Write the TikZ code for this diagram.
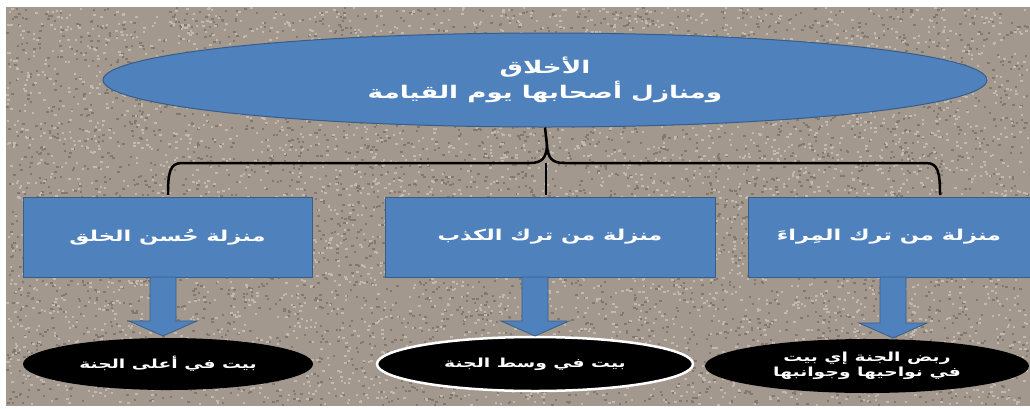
\documentclass[tikz,border=0pt]{standalone}
\usepackage{fontspec}
\usetikzlibrary{shapes.geometric,calc}
\newfontfamily\arabicfont[Script=Arabic,FakeStretch=1.5]{DejaVu Sans}
\TeXXeTstate=1
\definecolor{boxblue}{HTML}{4F81BD}
\definecolor{boxedge}{HTML}{385D8A}
\definecolor{bgtan}{HTML}{A3988D}
\definecolor{bgdark}{HTML}{83786E}
\definecolor{bglight}{HTML}{C3B9AE}
\tikzset{
  topell/.style={ellipse, fill=boxblue, draw=boxedge, line width=1pt, inner sep=0pt,
     text=white, align=center, font=\arabicfont\bfseries\fontsize{17.5}{25}\selectfont},
  levelbox/.style={rectangle, fill=boxblue, draw=boxedge, line width=1pt, inner sep=0pt,
     minimum height=80pt, text=white, font=\arabicfont\bfseries\fontsize{15}{18}\selectfont},
  leaf/.style={ellipse, fill=black, inner sep=0pt, text=white, align=center,
     font=\arabicfont\bfseries\fontsize{12.5}{15}\selectfont},
  brace/.style={draw=black, line width=2.5pt},
  blockarrow/.style={fill=boxblue, draw=boxedge, line width=0.8pt},
  speck/.style={fill=#1},
}
\newcommand\downarrowblock[3]{% x, ytop, ytip
  \draw[blockarrow] (#1-13,#2) -- (#1+13,#2) -- (#1+13,#3-15) -- (#1+34,#3-15)
     -- (#1,#3) -- (#1-34,#3-15) -- (#1-13,#3-15) -- cycle;}
\begin{document}
\begin{tikzpicture}[x=1pt,y=-1pt]
\useasboundingbox (0,0) rectangle (1030,408);
\fill[white] (0,0) rectangle (1030,408);
\fill[bgtan] (6,7) rectangle (1030,406);
% speckled texture of the background
\pgfmathsetseed{11}
\foreach \i in {1,...,4500}{
  \pgfmathsetmacro\xx{6+1021*rnd}\pgfmathsetmacro\yy{7+397*rnd}
  \fill[speck=bgdark] (\xx,\yy) rectangle +(2.4,2);}
\foreach \i in {1,...,4500}{
  \pgfmathsetmacro\xx{6+1021*rnd}\pgfmathsetmacro\yy{7+397*rnd}
  \fill[speck=bglight] (\xx,\yy) rectangle +(2.4,2);}
% top ellipse
\node[topell, minimum width=884pt, minimum height=94pt] (top) at (545,80)
  {\beginR الأخلاق\endR\\\beginR ومنازل أصحابها يوم القيامة\endR};
% level boxes
\node[levelbox, minimum width=289pt] (b1) at (167.5,237) {\beginR منزلة حُسن الخلق\endR};
\node[levelbox, minimum width=330pt] (b2) at (550,237) {\beginR منزلة من ترك الكذب\endR};
\node[levelbox, minimum width=282pt] (b3) at (889,237) {\beginR منزلة من ترك المِراءَ\endR};
% leaves
\node[leaf, minimum width=290pt, minimum height=52pt] (e1) at (168,364) {\beginR بيت في أعلى الجنة\endR};
\node[leaf, draw=white, line width=2.5pt, minimum width=316pt, minimum height=54pt] (e2) at (535,364) {\beginR بيت في وسط الجنة\endR};
\node[leaf, minimum width=324pt, minimum height=54pt] (e3) at (867,366) {\beginR ربض الجنة إي بيت\endR\\\beginR في نواحيها وجوانبها\endR};
% brace connector
\coordinate (cusp) at (547,146);
\coordinate (lleg) at (168,195);
\coordinate (rleg) at (940,195);
\coordinate (mleg) at (546,195);
\draw[brace] (top.south) -- (cusp);
\draw[brace] (lleg) .. controls (168,172) and (170,163) .. (182,163) -- (530,163)
   .. controls (542,163) and (546,158) .. (cusp)
   .. controls (548,158) and (552,163) .. (564,163) -- (926,163)
   .. controls (938,163) and (940,172) .. (rleg);
\draw[draw=black, line width=1.8pt] (546,163) -- (mleg);
% block arrows
\downarrowblock{163}{277}{336}
\downarrowblock{535}{277}{336}
\downarrowblock{893}{277}{338}
\end{tikzpicture}
\end{document}
